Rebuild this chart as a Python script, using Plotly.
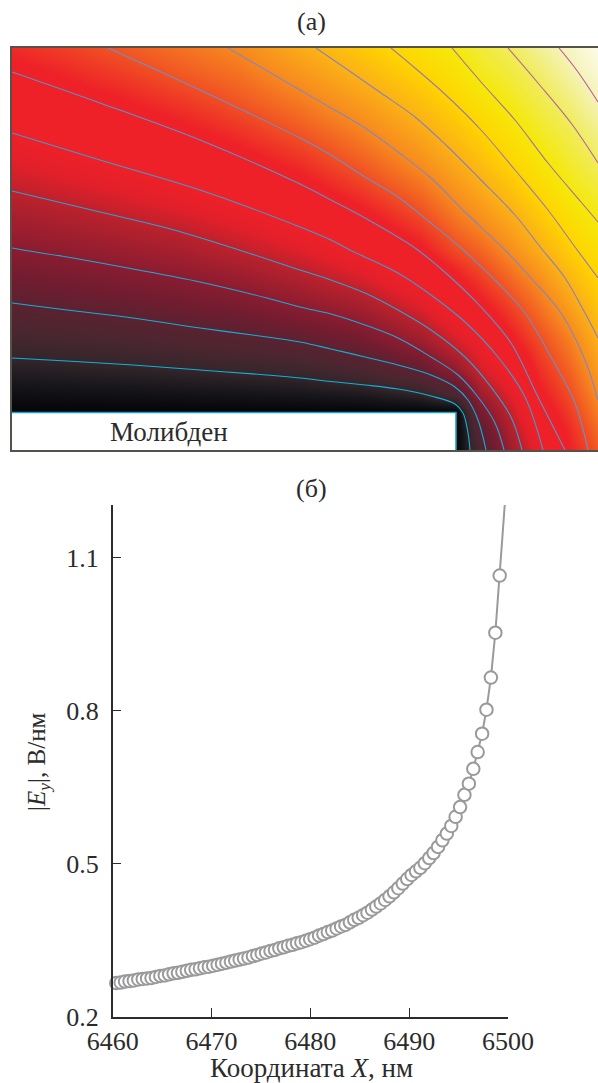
import numpy as np
import plotly.graph_objects as go

W, H = 598, 1083

# ---------- panel (a): field map ----------
grid_x = [12, 60, 120, 180, 240, 300, 360, 420, 456, 480, 510, 540, 570, 598]
grid_y = [48, 70, 100, 130, 160, 190, 220, 250, 280, 310, 340, 370, 395, 412, 430, 450]
col_012 = [6.40, 6.03, 5.54, 5.05, 4.53, 4.02, 3.49, 2.96, 2.42, 1.87, 1.33, 0.78, 0.31, 0, 0, 0]
col_060 = [6.70, 6.33, 5.81, 5.29, 4.77, 4.23, 3.67, 3.10, 2.54, 1.98, 1.40, 0.82, 0.33, 0, 0, 0]
col_120 = [7.15, 6.75, 6.19, 5.64, 5.11, 4.53, 3.94, 3.33, 2.72, 2.12, 1.51, 0.89, 0.36, 0, 0, 0]
col_180 = [7.60, 7.24, 6.64, 6.04, 5.46, 4.87, 4.23, 3.59, 2.94, 2.31, 1.66, 0.98, 0.40, 0, 0, 0]
col_240 = [8.05, 7.68, 7.16, 6.56, 5.94, 5.30, 4.65, 4.00, 3.25, 2.53, 1.83, 1.08, 0.44, 0, 0, 0]
col_300 = [8.85, 8.40, 7.79, 7.17, 6.52, 5.86, 5.16, 4.47, 3.73, 2.91, 2.06, 1.20, 0.51, 0, 0, 0]
col_360 = [9.65, 9.17, 8.53, 7.90, 7.29, 6.61, 5.87, 5.10, 4.30, 3.41, 2.48, 1.50, 0.61, 0, 0, 0]
col_420 = [10.55, 10.04, 9.42, 8.80, 8.20, 7.52, 6.80, 6.05, 5.18, 4.35, 3.39, 2.10, 0.90, 0, 0, 0]
col_456 = [11.10, 10.67, 10.08, 9.48, 8.88, 8.29, 7.65, 6.94, 6.00, 5.19, 4.34, 3.14, 1.53, 0, 0, 0]
col_480 = [11.55, 11.25, 10.62, 9.98, 9.38, 8.77, 8.13, 7.38, 6.63, 5.87, 4.95, 4.27, 3.28, 2.55, 1.90, 1.60]
col_510 = [12.00, 11.66, 11.20, 10.67, 10.08, 9.43, 8.78, 8.11, 7.39, 6.70, 6.04, 5.15, 4.50, 4.08, 3.70, 3.33]
col_540 = [12.63, 12.22, 11.78, 11.33, 10.83, 10.21, 9.57, 8.93, 8.16, 7.56, 6.97, 6.48, 6.08, 5.73, 5.27, 4.85]
col_570 = [13.20, 12.87, 12.37, 11.89, 11.46, 11.03, 10.42, 9.79, 9.15, 8.48, 7.85, 7.37, 6.97, 6.70, 6.42, 6.20]
col_598 = [13.88, 13.52, 13.03, 12.54, 12.05, 11.54, 11.03, 10.50, 9.97, 9.47, 8.97, 8.48, 8.08, 7.82, 7.50, 7.20]

# isolines
c1_x = [12, 67, 133, 200, 267, 300, 331, 365, 398, 431, 455, 463, 468, 470]
c1_y = [358, 361, 365, 370, 375, 378, 381.5, 385, 389, 396, 404, 413, 433, 450]
c2_x = [12, 67, 133, 200, 267, 300, 331, 365, 398, 431, 455, 468, 478, 486]
c2_y = [303, 310, 318, 328, 337, 342, 349, 357, 365, 375, 387, 400, 420, 450]
c3_x = [12, 23, 67, 133, 200, 267, 300, 331, 365, 398, 431, 458, 478, 495, 504]
c3_y = [248, 250, 257, 269, 282, 298, 307, 314, 325, 338, 357, 375, 397, 423, 450]
c4_x = [12, 100, 167, 233, 300, 331, 365, 398, 431, 465, 491, 511, 522]
c4_y = [191, 212, 228, 248, 270, 280, 293, 310, 330, 357, 387, 417, 450]
c5_x = [12, 100, 200, 300, 331, 350, 398, 431, 465, 498, 525, 543]
c5_y = [133, 160, 190, 227, 240, 250, 273, 295, 322, 357, 397, 450]
c6_x = [12, 100, 200, 300, 331, 365, 415, 448, 481, 511, 538, 565]
c6_y = [72, 103, 140, 184, 200, 218, 248, 275, 307, 343, 397, 450]
c7_x = [108, 200, 300, 331, 365, 398, 431, 461, 498, 525, 551, 575, 588]
c7_y = [48, 90, 138, 155, 177, 197, 223, 248, 283, 313, 357, 403, 450]
c8_x = [228, 300, 331, 365, 398, 431, 465, 505, 531, 561, 585, 598]
c8_y = [48, 90, 108, 128, 152, 178, 212, 250, 278, 313, 360, 400]
c9_x = [316, 348, 381, 415, 448, 481, 515, 541, 565, 585, 598]
c9_y = [48, 70, 93, 117, 147, 180, 215, 248, 278, 313, 338]
c10_x = [391, 415, 448, 481, 515, 548, 575, 598]
c10_y = [48, 68, 97, 130, 170, 210, 247, 278]
c11_x = [452, 481, 515, 548, 581, 598]
c11_y = [48, 82, 120, 163, 202, 222]
c12_x = [508, 538, 571, 598]
c12_y = [48, 83, 123, 163]
c13_x = [559, 578, 598]
c13_y = [48, 72, 102]
iso_colors = ["#12b0dc", "#14aedb", "#1aaadb", "#2aa3d8", "#3f9ad4", "#5a94cc",
              "#6f8fc8", "#7f88c2", "#8a80bc", "#9a78b2", "#a56eaa", "#b0649f", "#bb5a98"]

block_x = [12, 456, 456, 12]
block_y = [412.5, 412.5, 450, 450]

# ---------- panel (b): curve ----------
point_x = [6460.36, 6460.81, 6461.25, 6461.70, 6462.14, 6462.59, 6463.04, 6463.48, 6463.93, 6464.37,
           6464.82, 6465.27, 6465.71, 6466.16, 6466.60, 6467.05, 6467.50, 6467.94, 6468.39, 6468.83,
           6469.28, 6469.73, 6470.17, 6470.62, 6471.06, 6471.51, 6471.96, 6472.40, 6472.85, 6473.29,
           6473.74, 6474.19, 6474.63, 6475.08, 6475.52, 6475.97, 6476.42, 6476.86, 6477.31, 6477.75,
           6478.20, 6478.65, 6479.09, 6479.54, 6479.98, 6480.43, 6480.88, 6481.32, 6481.77, 6482.21,
           6482.66, 6483.11, 6483.55, 6484.00, 6484.44, 6484.89, 6485.34, 6485.78, 6486.23, 6486.67,
           6487.12, 6487.57, 6488.01, 6488.46, 6488.90, 6489.35, 6489.80, 6490.24, 6490.69, 6491.13,
           6491.58, 6492.03, 6492.47, 6492.92, 6493.36, 6493.81, 6494.26, 6494.70, 6495.15, 6495.59,
           6496.04, 6496.49, 6496.93, 6497.38, 6497.82, 6498.27, 6498.72, 6499.16]
point_y = [.266, .267, .269, .270, .271, .273, .274, .275, .276, .278,
           .280, .281, .283, .285, .286, .288, .290, .292, .293, .295,
           .297, .298, .300, .302, .304, .306, .308, .310, .312, .314,
           .316, .319, .321, .324, .326, .329, .331, .334, .336, .339,
           .341, .344, .346, .349, .352, .355, .359, .362, .366, .369,
           .373, .377, .380, .385, .390, .394, .399, .404, .410, .416,
           .422, .429, .436, .444, .452, .461, .470, .478, .485, .492,
           .501, .511, .521, .533, .546, .559, .574, .592, .611, .635,
           .657, .686, .719, .755, .802, .865, .953, 1.065]
line_end_x = [6499.67]
line_end_y = [1.2034]

x_ticks = [6460, 6470, 6480, 6490, 6500]
y_ticks = [0.2, 0.5, 0.8, 1.1]
y_tick_text = ["0.2", "0.5", "0.8", "1.1"]

colorscale = [
    [0 / 14, "#040408"], [0.5 / 14, "#16151a"], [1 / 14, "#33262a"], [1.5 / 14, "#4a2630"],
    [2 / 14, "#5a2230"], [2.5 / 14, "#731c30"], [3 / 14, "#8a1c30"], [3.5 / 14, "#a31f2e"],
    [4 / 14, "#bd212c"], [4.5 / 14, "#e2202a"], [5 / 14, "#ee2028"], [6.2 / 14, "#ee2028"],
    [7 / 14, "#f04e24"], [8 / 14, "#f7881f"], [9 / 14, "#fbb116"], [10 / 14, "#ffd400"],
    [11 / 14, "#f5e80a"], [12 / 14, "#f0ec5c"], [13 / 14, "#f5f3b8"], [14 / 14, "#fdfdf0"],
]

SERIF = "Liberation Serif"
INK = "#2b2b2b"
GRAY = "#9a9a9c"

def fx(p):
    return p / W

def fy(p):
    return 1 - p / H

fig = go.Figure()

z = np.array([col_012, col_060, col_120, col_180, col_240, col_300, col_360, col_420,
              col_456, col_480, col_510, col_540, col_570, col_598]).T
fig.add_trace(go.Heatmap(x=grid_x, y=grid_y, z=z, zmin=0, zmax=14, zsmooth="best",
                         colorscale=colorscale, showscale=False, hoverinfo="skip",
                         xaxis="x", yaxis="y"))
iso = [(c1_x, c1_y), (c2_x, c2_y), (c3_x, c3_y), (c4_x, c4_y), (c5_x, c5_y), (c6_x, c6_y), (c7_x, c7_y),
       (c8_x, c8_y), (c9_x, c9_y), (c10_x, c10_y), (c11_x, c11_y), (c12_x, c12_y), (c13_x, c13_y)]
for (cx, cy), col in zip(iso, iso_colors):
    fig.add_trace(go.Scatter(x=cx, y=cy, mode="lines", line=dict(color=col, width=1.1, shape="spline", smoothing=1.0),
                             xaxis="x", yaxis="y", hoverinfo="skip", showlegend=False))
fig.add_trace(go.Scatter(x=block_x + block_x[:1], y=block_y + block_y[:1], mode="lines", fill="toself",
                         fillcolor="white", line=dict(color="rgba(0,0,0,0)", width=0),
                         xaxis="x", yaxis="y", hoverinfo="skip", showlegend=False))
fig.add_trace(go.Scatter(x=block_x[:3], y=block_y[:3], mode="lines", line=dict(color="#1ba3c2", width=1.6),
                         xaxis="x", yaxis="y", hoverinfo="skip", showlegend=False))

fig.add_trace(go.Scatter(x=point_x + line_end_x, y=point_y + line_end_y, mode="lines",
                         line=dict(color=GRAY, width=2), xaxis="x2", yaxis="y2",
                         hoverinfo="skip", showlegend=False))
fig.add_trace(go.Scatter(x=point_x, y=point_y, mode="markers", cliponaxis=False,
                         marker=dict(symbol="circle", size=12.5, color="white", line=dict(color=GRAY, width=2)),
                         xaxis="x2", yaxis="y2", hoverinfo="skip", showlegend=False))

ann = [
    dict(text="(а)", xpx=311, ypx=21, size=26, angle=0),
    dict(text="(б)", xpx=311, ypx=488, size=26, angle=0),
    dict(text="Молибден", xpx=169, ypx=432, size=27, angle=0),
    dict(text="Координата <i>X</i>, нм", xpx=311, ypx=1067.5, size=27, angle=0),
    dict(text="|<i>E<sub>y</sub></i>|, В/нм", xpx=38, ypx=762, size=25, angle=-90),
]
annotations = [dict(text=a["text"], x=fx(a["xpx"]), y=fy(a["ypx"]), xref="paper", yref="paper",
                    xanchor="center", yanchor="middle", showarrow=False, textangle=a["angle"],
                    font=dict(family=SERIF, size=a["size"], color=INK)) for a in ann]

fig.update_layout(
    template="none",
    width=W, height=H, margin=dict(l=0, r=0, t=0, b=0, pad=0), autosize=False,
    paper_bgcolor="white", plot_bgcolor="white", showlegend=False, annotations=annotations,
    xaxis=dict(domain=[fx(12), 1], range=[12, 598], showgrid=False, zeroline=False, showticklabels=False,
               ticks="", showline=True, mirror=True, linecolor="#55524c", linewidth=1.5, automargin=False),
    yaxis=dict(domain=[fy(450), fy(48)], range=[450, 48], showgrid=False, zeroline=False, showticklabels=False,
               ticks="", showline=True, linecolor="#55524c", linewidth=1.5, anchor="x", automargin=False),
    xaxis2=dict(domain=[fx(112.7), fx(508)], range=[6460, 6500], anchor="y2", showgrid=False, zeroline=False,
                automargin=False,
                tickmode="array", tickvals=x_ticks, ticks="inside", ticklen=9, tickwidth=1.2, tickcolor=INK,
                showline=True, linecolor=INK, linewidth=1.5, tickfont=dict(family=SERIF, size=26, color=INK)),
    yaxis2=dict(domain=[fy(1016.7), fy(505)], range=[0.2, 1.2034], anchor="x2", showgrid=False, zeroline=False,
                automargin=False,
                tickmode="array", tickvals=y_ticks, ticktext=y_tick_text, ticks="inside", ticklen=9, tickwidth=1.2,
                tickcolor=INK, showline=True, linecolor=INK, linewidth=1.5, ticklabelstandoff=7,
                tickfont=dict(family=SERIF, size=26, color=INK)),
)
fig.write_html("out.html", config=dict(displayModeBar=False),
               post_script="document.body.style.margin='0';")
